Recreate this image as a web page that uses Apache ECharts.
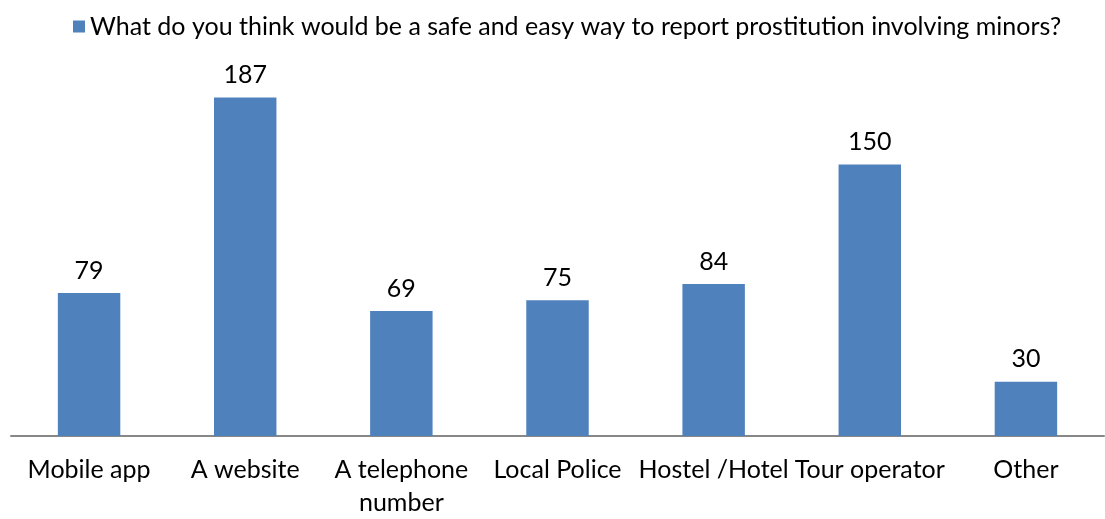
<!DOCTYPE html>
<html>
<head>
<meta charset="utf-8">
<script src="https://cdn.jsdelivr.net/npm/echarts@6/dist/echarts.min.js"></script>
<style>
html,body{margin:0;padding:0;background:#fff;}
#chart{width:1105px;height:519px;}
</style>
</head>
<body>
<div id="chart"></div>
<script>
var categories = ["Mobile app", "A website", "A telephone\nnumber", "Local Police", "Hostel /Hotel", "Tour operator", "Other"];
var seriesName = "What do you think would be a safe and easy way to report prostitution involving minors?";
var values = [79, 187, 69, 75, 84, 150, 30];

var FONT = "Lato, 'Open Sans', sans-serif";
var chart = echarts.init(document.getElementById('chart'), null, {renderer: 'canvas'});
chart.setOption({
  animation: false,
  legend: {
    left: 68,
    top: 9,
    itemWidth: 12,
    itemHeight: 12,
    icon: 'rect',
    textStyle: {fontFamily: FONT, fontSize: 25, color: '#000'},
    data: [seriesName]
  },
  grid: {left: 11, right: 1, top: 74, bottom: 80, containLabel: false},
  xAxis: {
    type: 'category',
    data: categories,
    axisLine: {lineStyle: {color: '#888888', width: 2}},
    axisTick: {show: false},
    axisLabel: {interval: 0, fontFamily: FONT, fontSize: 25, color: '#000', margin: 17, lineHeight: 33}
  },
  yAxis: {
    type: 'value',
    min: 0,
    max: 200,
    show: false,
    splitLine: {show: false}
  },
  series: [{
    name: seriesName,
    type: 'bar',
    data: values,
    barCategoryGap: '60%',
    itemStyle: {color: '#4F81BD'},
    label: {show: true, position: 'top', distance: 10, fontFamily: FONT, fontSize: 25, color: '#000'}
  }]
});
</script>
</body>
</html>
